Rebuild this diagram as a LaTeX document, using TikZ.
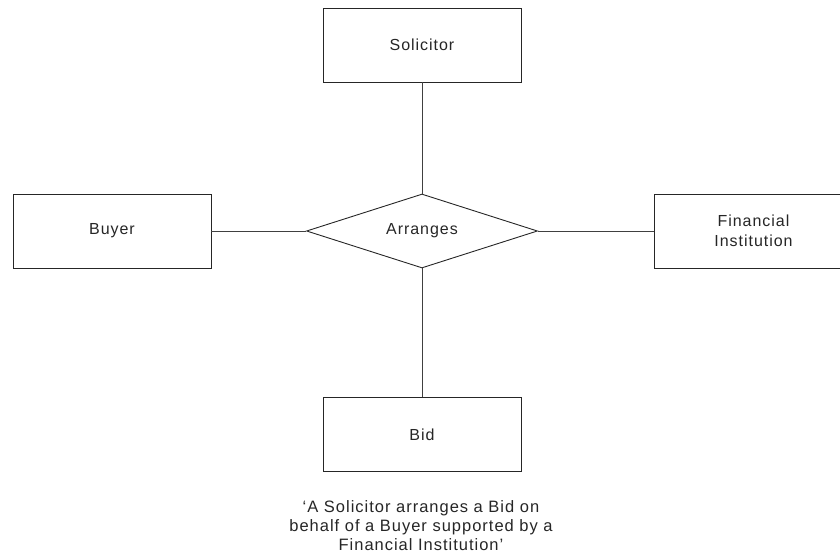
\documentclass[tikz,border=0pt]{standalone}
\usepackage{fontspec}
\setmainfont[LetterSpace=6]{Liberation Sans}
\usetikzlibrary{shapes.geometric}
\begin{document}
\begin{tikzpicture}[x=1pt,y=-1pt,
  ent/.style={draw=black!85,line width=0.9pt,fill=white,minimum width=198pt,minimum height=74pt,inner sep=0pt,align=center,font=\fontsize{16}{20}\selectfont,text=black!85},
  rel/.style={draw=black!85,line width=0.9pt,diamond,aspect=3.1,minimum width=231pt,minimum height=74pt,inner sep=0pt,font=\fontsize{16}{19}\selectfont,text=black!85},
  conn/.style={draw=black!75,line width=0.9pt}]
\useasboundingbox (0,0) rectangle (840,554);
\node[ent] (sol) at (422,45) {Solicitor};
\node[ent] (buy) at (112,231) {Buyer};
\node[ent,minimum width=199pt] (fin) at (753.5,231) {Financial\\Institution};
\node[ent] (bid) at (422,434.5) {Bid};
\node[rel] (arr) at (422,231) {Arranges};
\draw[conn] (sol.south) -- (arr.north);
\draw[conn] (arr.south) -- (bid.north);
\draw[conn] (buy.east) -- (arr.west);
\draw[conn] (arr.east) -- (fin.west);
\node[align=center,font=\fontsize{16.5}{19}\selectfont,text=black!85] (cap) at (421,525.5) {‘A Solicitor arranges a Bid on\\behalf of a Buyer supported by a\\Financial Institution’};
\end{tikzpicture}
\end{document}
